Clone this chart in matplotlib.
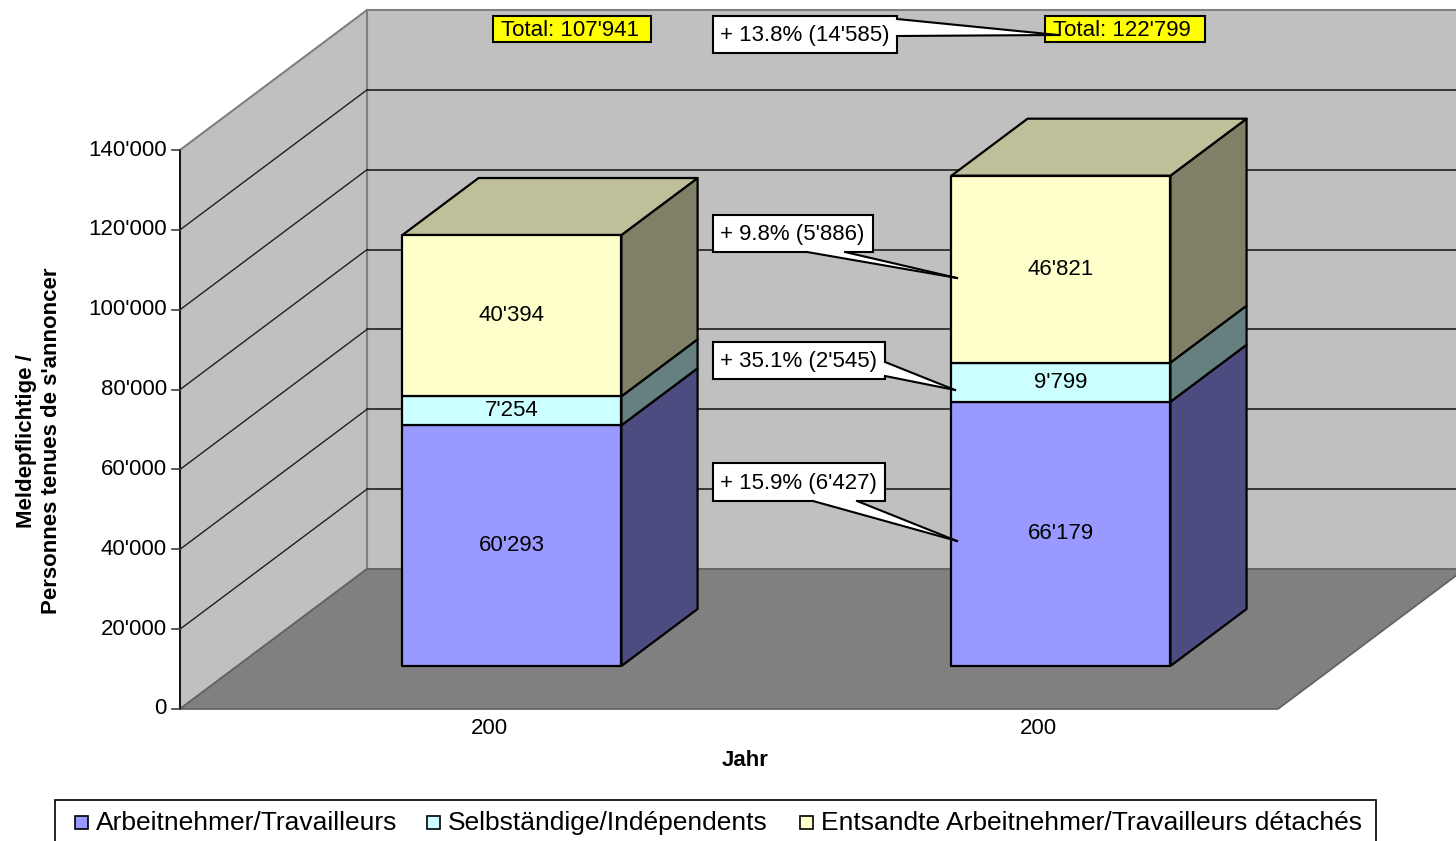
import matplotlib
matplotlib.use("Agg")
import matplotlib.pyplot as plt
from matplotlib.patches import Polygon, Rectangle

plt.rcParams['font.family'] = ['Liberation Sans', 'DejaVu Sans']

# Daten
years = ["200", "200"]
series_names = ["Arbeitnehmer/Travailleurs", "Selbständige/Indépendents",
                "Entsandte Arbeitnehmer/Travailleurs détachés"]
arbeitnehmer = [60293, 66179]
selbstaendige = [7254, 9799]
entsandte = [40394, 46821]
y_ticks = [0, 20000, 40000, 60000, 80000, 100000, 120000, 140000]
change_labels = ["+ 15.9% (6'427)", "+ 35.1% (2'545)", "+ 9.8% (5'886)"]
total_change = "+ 13.8% (14'585)"

front_colors = ["#9999FF", "#CCFFFF", "#FFFFCC"]
side_colors = ["#4C4C80", "#668080", "#808066"]
top_colors = ["#7373BF", "#99BFBF", "#BFBF99"]


def fmt(v):
    return f"{v:,}".replace(",", "'")


series = [arbeitnehmer, selbstaendige, entsandte]
totals = [sum(s[i] for s in series) for i in range(len(years))]

W, H = 1456, 841
fig = plt.figure(figsize=(W / 100, H / 100), dpi=100)

# pseudo-3D geometry (pixels of the original)
CAT_PX = 549
X0, Y0 = 180, 709
VAL_PX = 559 / 140000
DX = 187 / CAT_PX
DY = 140 / VAL_PX
BAR_W = 219 / CAT_PX
D0, D1 = 43 / 140, 100 / 140

ax = fig.add_axes([0, 0, 1, 1])
ax.set_xlim(-X0 / CAT_PX - 0.5, (W - X0) / CAT_PX - 0.5)
ax.set_ylim(-(H - Y0) / VAL_PX, Y0 / VAL_PX)
ax.axis("off")


def P(x, v, d):
    return (x + d * DX, v + d * DY)


xl, xr = -0.5, len(years) - 0.5
vmax = y_ticks[-1]

# walls and floor
ax.add_patch(Polygon([P(xl, 0, 1), P(xr, 0, 1), P(xr, vmax, 1), P(xl, vmax, 1)],
                     fc="#C0C0C0", ec="#808080", lw=1.5, zorder=1))
ax.add_patch(Polygon([P(xl, 0, 0), P(xl, 0, 1), P(xl, vmax, 1), P(xl, vmax, 0)],
                     fc="#C0C0C0", ec="#808080", lw=1.5, zorder=1))
for v in y_ticks[1:-1]:
    ax.plot(*zip(P(xl, v, 1), P(xr, v, 1)), color="#202020", lw=1.2, zorder=2)
    ax.plot(*zip(P(xl, v, 0), P(xl, v, 1)), color="#202020", lw=1.0, zorder=2)
ax.add_patch(Polygon([P(xl, 0, 0), P(xl, 0, 1), P(xr, 0, 1), P(xr, 0, 0)],
                     fc="#808080", ec="#606060", lw=1.2, zorder=3))
ax.plot([xl, xl], [0, vmax], color="#000000", lw=1.2, zorder=4)

# y ticks
for v in y_ticks:
    ax.plot([xl - 8 / CAT_PX, xl], [v, v], color="#404040", lw=1.2, zorder=4)
    ax.text(xl - 13 / CAT_PX, v, fmt(v), ha="right", va="center", fontsize=16)

# bars
for i in range(len(years)):
    bottom = 0
    for k, vals in enumerate(series):
        top = bottom + vals[i]
        a, b = i - BAR_W / 2, i + BAR_W / 2
        ax.add_patch(Polygon([P(b, bottom, D0), P(b, bottom, D1), P(b, top, D1), P(b, top, D0)],
                             fc=side_colors[k], ec="black", lw=1.6, zorder=10, joinstyle="round"))
        ax.add_patch(Polygon([P(a, bottom, D0), P(b, bottom, D0), P(b, top, D0), P(a, top, D0)],
                             fc=front_colors[k], ec="black", lw=1.6, zorder=11, joinstyle="round"))
        if k == len(series) - 1:
            ax.add_patch(Polygon([P(a, top, D0), P(b, top, D0), P(b, top, D1), P(a, top, D1)],
                                 fc=top_colors[k], ec="black", lw=1.6, zorder=10, joinstyle="round"))
        ax.text(*P(i, (bottom + top) / 2, D0), fmt(vals[i]), ha="center", va="center",
                fontsize=16, zorder=12)
        bottom = top
    ax.annotate(years[i], (i, 0), xytext=(35, -19), textcoords="offset pixels",
                ha="center", va="center", fontsize=16)

# overlay in pixel coordinates for boxes, titles and legend
ov = fig.add_axes([0, 0, 1, 1])
ov.set_xlim(0, W)
ov.set_ylim(H, 0)
ov.axis("off")
ov.patch.set_alpha(0)

ov.text(745, 760, "Jahr", ha="center", va="center", fontsize=16, fontweight="bold")
ov.text(39, 441, "Meldepflichtige /\nPersonnes tenues de s'annoncer", rotation=90,
        ha="center", va="center", multialignment="center", fontsize=16,
        fontweight="bold", linespacing=1.3)

for (x0, x1), t in zip([(493, 651), (1045, 1205)], totals):
    ov.add_patch(Rectangle((x0, 16), x1 - x0, 26, fc="#FFFF00", ec="black", lw=1.5, zorder=3))
    ov.text(x0 + 8, 30, "Total: " + fmt(t), ha="left", va="center", fontsize=16, zorder=4)


def callout(text, box, base, inset, tip):
    x0, y0, x1, y1 = box
    ov.add_patch(Rectangle((x0, y0), x1 - x0, y1 - y0, fc="white", ec="black", lw=1.5, zorder=5))
    inner = [(bx + inset[0], by + inset[1]) for bx, by in base]
    ov.add_patch(Polygon([inner[0], base[0], tip, base[1], inner[1]],
                         fc="white", ec="none", zorder=6))
    for bx, by in base:
        ov.plot([bx, tip[0]], [by, tip[1]], color="black", lw=1.5, zorder=7)
    ov.text(x0 + 7, (y0 + y1) / 2 + 1, text, ha="left", va="center", fontsize=16, zorder=8)


callout(total_change, (713, 16, 897, 53), [(897, 19), (897, 36)], (-3, 0), (1058, 35))
callout(change_labels[2], (713, 215, 873, 252), [(807, 252), (845, 252)], (0, -3), (957, 278))
callout(change_labels[1], (713, 342, 885, 379), [(885, 362), (885, 376)], (-3, 0), (955, 390))
callout(change_labels[0], (713, 463, 885, 501), [(813, 501), (857, 501)], (0, -3), (957, 541))

# legend
ov.add_patch(Rectangle((55, 800), 1321, 60, fc="white", ec="black", lw=1.2, zorder=3))
for name, col, sx in zip(series_names, front_colors, [75, 427, 800]):
    ov.add_patch(Rectangle((sx, 816), 13, 13, fc=col, ec="black", lw=1.2, zorder=4))
    ov.text(sx + 21, 823, name, ha="left", va="center", fontsize=19, zorder=4)

fig.savefig("out.png", dpi=100)
